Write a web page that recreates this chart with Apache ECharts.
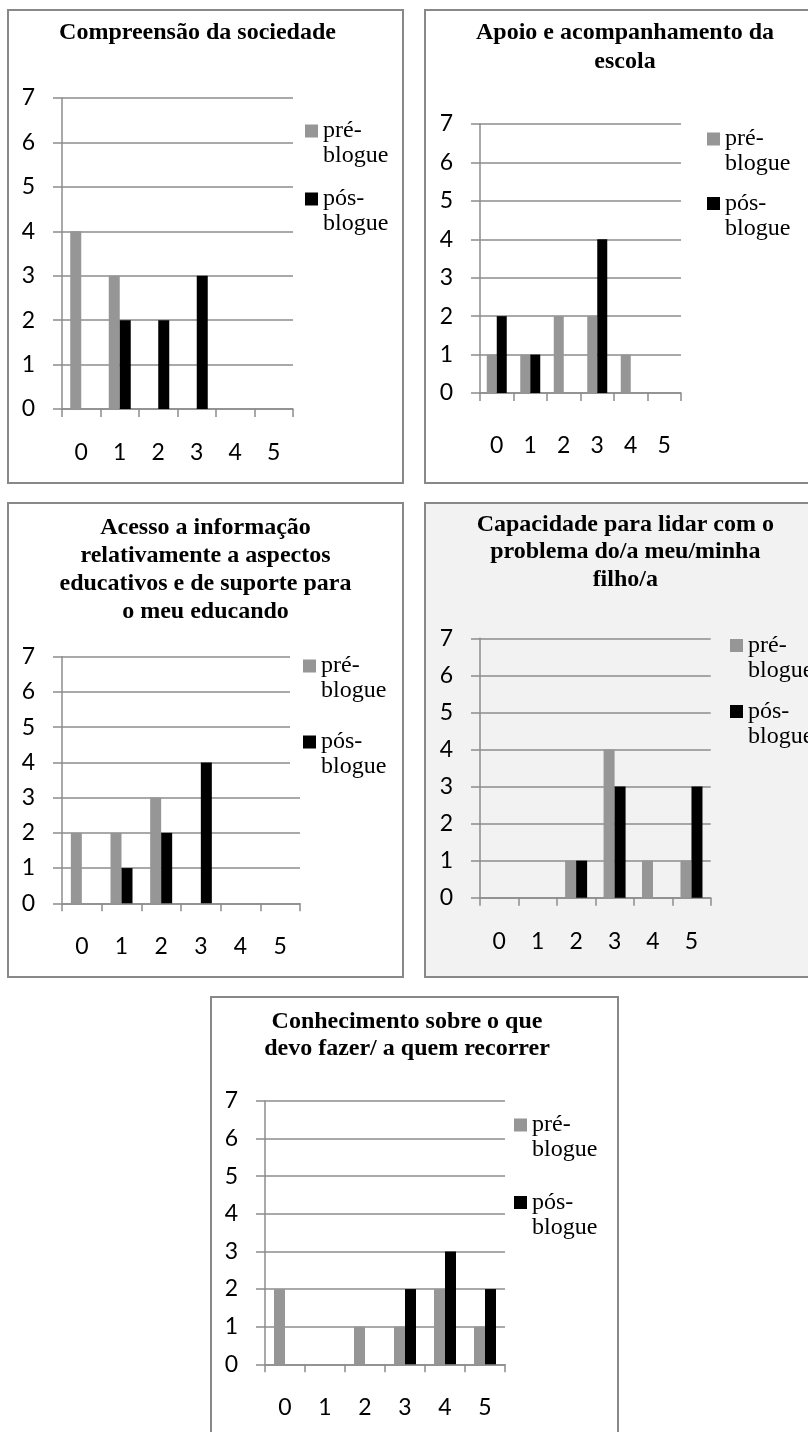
<!DOCTYPE html>
<html><head><meta charset="utf-8">
<script src="https://cdn.jsdelivr.net/npm/echarts@6/dist/echarts.min.js"></script>
<style>
html,body{margin:0;padding:0;width:808px;height:1432px;overflow:hidden;background:#fff;}
.panel{position:absolute;box-sizing:border-box;border:2px solid #888;}
#chart{position:absolute;left:0;top:0;width:808px;height:1432px;}
</style></head><body>
<div class="panel" style="left:7px;top:9px;width:397px;height:475px;"></div>
<div class="panel" style="left:424px;top:9px;width:440px;height:475px;"></div>
<div class="panel" style="left:7px;top:502px;width:397px;height:476px;"></div>
<div class="panel" style="left:424px;top:502px;width:440px;height:476px;background:#f2f2f2;"></div>
<div class="panel" style="left:210px;top:996px;width:409px;height:480px;"></div>
<div id="chart"></div>
<script>
// ---- data ----
const categories = ['0', '1', '2', '3', '4', '5'];
const seriesNames = ['pré-blogue', 'pós-blogue'];
const titles = [
  'Compreensão da sociedade',
  'Apoio e acompanhamento da\nescola',
  'Acesso a informação\nrelativamente a aspectos\neducativos e de suporte para\no meu educando',
  'Capacidade para lidar com o\nproblema do/a meu/minha\nfilho/a',
  'Conhecimento sobre o que\ndevo fazer/ a quem recorrer'
];
const pre1 = [4, 3, 0, 0, 0, 0];
const pos1 = [0, 2, 2, 3, 0, 0];
const pre2 = [1, 1, 2, 2, 1, 0];
const pos2 = [2, 1, 0, 4, 0, 0];
const pre3 = [2, 2, 3, 0, 0, 0];
const pos3 = [0, 1, 2, 4, 0, 0];
const pre4 = [0, 0, 1, 4, 1, 1];
const pos4 = [0, 0, 1, 3, 0, 3];
const pre5 = [2, 0, 1, 1, 2, 1];
const pos5 = [0, 0, 0, 2, 3, 2];
const yTicks = { min: 0, max: 7, interval: 1 };

const preData = [pre1, pre2, pre3, pre4, pre5];
const posData = [pos1, pos2, pos3, pos4, pos5];

// ---- layout (page coordinates) ----
const layout = [
  { grid: { left: 62, top: 98, width: 231, height: 311 }, barWidth: 11, xMargin: 32,
    title: { cx: 197.5, top: 19, lh: 28 }, legend: { left: 305, top: 118.5, gap: 18 } },
  { grid: { left: 480, top: 124, width: 201, height: 269 }, barWidth: 10, xMargin: 41,
    title: { cx: 625, top: 18.5, lh: 29 }, legend: { left: 707, top: 126.5, gap: 14.5 } },
  { grid: { left: 62, top: 656.7, width: 238, height: 246.6 }, barWidth: 11, xMargin: 32,
    title: { cx: 205.5, top: 514, lh: 28 }, legend: { left: 290, top: 645.5, gap: 26, pad: [8, 10, 8, 13], bg: '#ffffff' } },
  { grid: { left: 480, top: 638.3, width: 230.7, height: 259.4 }, barWidth: 11, xMargin: 32,
    title: { cx: 625.3, top: 511, lh: 27.5 }, legend: { left: 730, top: 633, gap: 16 } },
  { grid: { left: 265, top: 1101, width: 240, height: 263.3 }, barWidth: 11, xMargin: 32,
    title: { cx: 407, top: 1008, lh: 27 }, legend: { left: 514, top: 1112.5, gap: 27.5 } }
];

const lineColor = '#8c8c8c';
const colors = ['#969696', '#000000'];
const legendLH = 25;
// square marker sitting at the top of a 13x38 icon box (aligned with first text line)
const legendIcon = 'path://M0,0L13,0L13,13L0,13Z M0,38L13,38';

const option = {
  animation: false,
  backgroundColor: 'transparent',
  title: [], legend: [], grid: [], xAxis: [], yAxis: [], series: []
};

layout.forEach(function (L, i) {
  option.title.push({
    text: titles[i],
    left: L.title.cx, top: L.title.top, textAlign: 'center', padding: 0,
    textStyle: { fontFamily: 'Liberation Serif', fontWeight: 'bold', fontSize: 24, lineHeight: L.title.lh, color: '#000' }
  });
  option.grid.push(Object.assign({ containLabel: false }, L.grid));
  option.xAxis.push({
    type: 'category', gridIndex: i, data: categories, boundaryGap: true,
    axisLine: { show: true, lineStyle: { color: lineColor, width: 1.5 } },
    axisTick: { show: true, length: 8, alignWithLabel: false, lineStyle: { color: lineColor, width: 1.5 } },
    axisLabel: { margin: L.xMargin, fontFamily: 'Lato', fontSize: 23, color: '#000' },
    splitLine: { show: false }
  });
  option.yAxis.push({
    type: 'value', gridIndex: i, min: yTicks.min, max: yTicks.max, interval: yTicks.interval,
    axisLine: { show: true, lineStyle: { color: lineColor, width: 1.5 } },
    axisTick: { show: true, length: 9, lineStyle: { color: lineColor, width: 1.5 } },
    axisLabel: { margin: 27, fontFamily: 'Lato', fontSize: 23, color: '#000' },
    splitLine: { show: true, lineStyle: { color: lineColor, width: 1.5 } }
  });
  option.legend.push({
    orient: 'vertical', left: L.legend.left, top: L.legend.top,
    itemGap: L.legend.gap, itemWidth: 13, itemHeight: 38, icon: legendIcon,
    padding: L.legend.pad || 0, backgroundColor: L.legend.bg || 'transparent',
    selectedMode: false, data: seriesNames.slice(),
    formatter: function (name) { return name.replace('-', '-\n'); },
    textStyle: { fontFamily: 'Liberation Serif', fontSize: 24, lineHeight: legendLH, color: '#000' }
  });
  [preData[i], posData[i]].forEach(function (d, k) {
    option.series.push({
      type: 'bar', name: seriesNames[k], xAxisIndex: i, yAxisIndex: i, data: d,
      barWidth: L.barWidth, barGap: '0%', itemStyle: { color: colors[k] }, emphasis: { disabled: true }
    });
  });
});

const chart = echarts.init(document.getElementById('chart'), null, { renderer: 'canvas' });
chart.setOption(option);
</script>
</body></html>
